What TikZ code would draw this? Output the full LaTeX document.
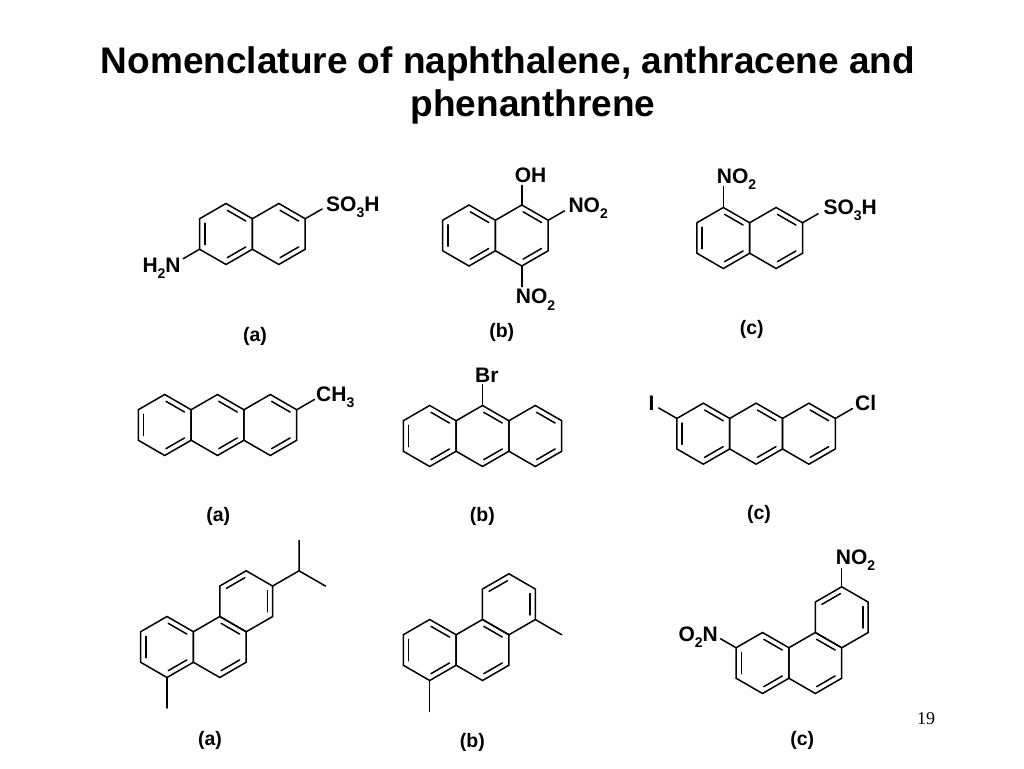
\documentclass[tikz,border=0pt]{standalone}
\usepackage{fontspec}
\setmainfont{Liberation Sans}
\newfontfamily\pagefont{Liberation Serif}
\usetikzlibrary{calc}
\def\bondlen{30.5}
\tikzset{
  bond/.style={line width=1.5pt,line cap=round,line join=miter},
  atomlabel/.style={anchor=base west,inner sep=0pt,font=\fontsize{21}{24}\bfseries\selectfont},
  caption/.style={inner sep=0pt,font=\fontsize{19.5}{23}\bfseries\selectfont},
  heading/.style={inner sep=0pt,anchor=base,font=\fontsize{37}{42}\bfseries\selectfont}
}
\newcommand{\subnum}[1]{\raisebox{-0.3em}{\fontsize{14}{14}\selectfont #1}}
\newcommand{\hexring}[3]{%
  \coordinate (#1) at (#2);
  \draw[bond] (#1) ++(30:\bondlen) -- ++(150:\bondlen) -- ++(210:\bondlen) -- ++(270:\bondlen)
    -- ++(330:\bondlen) -- ++(30:\bondlen) -- cycle;
  \foreach \a in {#3}
    \draw[bond,shorten <=1.5pt,shorten >=1.5pt] ($(#1)+({\a-30}:{0.8*\bondlen})$) -- ($(#1)+({\a+30}:{0.8*\bondlen})$);
}
\newcommand{\bondout}[3]{\draw[bond] (#1) ++(#2:\bondlen) -- ++(#2:#3);}
\begin{document}
\begin{tikzpicture}[x=1pt,y=1pt]
  \useasboundingbox (0,0) rectangle (1024,768);

  \node[heading] (titleA) at (508,694) {Nomenclature of naphthalene, anthracene and};
  \node[heading] (titleB) at (533,651) {phenanthrene};
  \node[inner sep=0pt,font=\fontsize{18}{20}\pagefont\selectfont] (pagenum) at (926,49) {19};

  % naphthalenes
  \hexring{naphAl}{226,534}{180,60,300}
  \hexring{naphAr}{278.8,534}{60,300}
  \bondout{naphAr}{30}{19.5}
  \bondout{naphAl}{210}{19}
  \node[atomlabel] (so3hA) at (326,556.3) {SO\subnum{3}H};
  \node[atomlabel] (h2nA) at (142.3,495.7) {H\subnum{2}N};
  \node[caption] (capNa) at (255,432) {(a)};

  \hexring{naphBl}{469,532.5}{180,60,300}
  \hexring{naphBr}{521.8,532.5}{60,300}
  \bondout{naphBr}{90}{19.5}
  \bondout{naphBr}{30}{18.7}
  \bondout{naphBr}{270}{20.7}
  \node[atomlabel] (ohB) at (514.7,585.7) {OH};
  \node[atomlabel] (no2Ba) at (568.3,555.3) {NO\subnum{2}};
  \node[atomlabel] (no2Bb) at (515.7,464) {NO\subnum{2}};
  \node[caption] (capNb) at (501.7,435.3) {(b)};

  \hexring{naphCl}{723.3,530}{180,60,300}
  \hexring{naphCr}{776.1,530}{60,300}
  \bondout{naphCl}{90}{21}
  \bondout{naphCr}{30}{18}
  \node[atomlabel] (no2C) at (716.7,584.7) {NO\subnum{2}};
  \node[atomlabel] (so3hC) at (823.3,553.7) {SO\subnum{3}H};
  \node[caption] (capNc) at (751.7,439) {(c)};

  % anthracenes
  \hexring{anthAl}{164.7,343}{180,60,300}
  \hexring{anthAm}{217.5,343}{60,300}
  \hexring{anthAr}{270.3,343}{60,300}
  \bondout{anthAr}{30}{20.6}
  \node[atomlabel] (ch3A) at (316,366.3) {CH\subnum{3}};
  \node[caption] (capAa) at (218.3,252) {(a)};

  \hexring{anthBl}{429.7,332}{180,60,300}
  \hexring{anthBm}{482.5,332}{60,300}
  \hexring{anthBr}{535.3,332}{60,300}
  \bondout{anthBm}{90}{20.7}
  \node[atomlabel] (brB) at (475,385.7) {Br};
  \node[caption] (capAb) at (482.3,252) {(b)};

  \hexring{anthCl}{703.3,334.3}{180,60,300}
  \hexring{anthCm}{756.1,334.3}{60,300}
  \hexring{anthCr}{808.9,334.3}{60,300}
  \bondout{anthCl}{150}{21}
  \bondout{anthCr}{30}{19.6}
  \node[atomlabel] (iC) at (648.5,357.3) {I};
  \node[atomlabel] (clC) at (855,357.3) {Cl};
  \node[caption] (capAc) at (759,254) {(c)};

  % phenanthrenes
  \hexring{phenAl}{167,121}{180,60,300}
  \hexring{phenAm}{219.8,121}{60,300}
  \hexring{phenAt}{246.2,166.7}{120,0}
  \bondout{phenAl}{270}{30.5}
  \draw[bond] (phenAt) ++(30:\bondlen) -- ++(30:\bondlen) coordinate (ipr) -- ++(90:\bondlen);
  \draw[bond] (ipr) -- ++(-30:\bondlen);
  \node[caption] (capPa) at (210,28) {(a)};

  \hexring{phenBl}{429.7,118}{180,60,300}
  \hexring{phenBm}{482.5,118}{60,300}
  \hexring{phenBt}{508.9,163.7}{120,0}
  \bondout{phenBl}{270}{31}
  \bondout{phenBt}{330}{30.5}
  \node[caption] (capPb) at (472.3,26) {(b)};

  \hexring{phenCl}{762.5,105}{180,60,300}
  \hexring{phenCm}{815.3,105}{60,300}
  \hexring{phenCt}{841.7,150.7}{120,0}
  \bondout{phenCt}{90}{18}
  \bondout{phenCl}{150}{18}
  \node[atomlabel] (no2P) at (835.7,203.7) {NO\subnum{2}};
  \node[atomlabel] (o2nP) at (678.3,127) {O\subnum{2}N};
  \node[caption] (capPc) at (802.3,28) {(c)};
\end{tikzpicture}
\end{document}
